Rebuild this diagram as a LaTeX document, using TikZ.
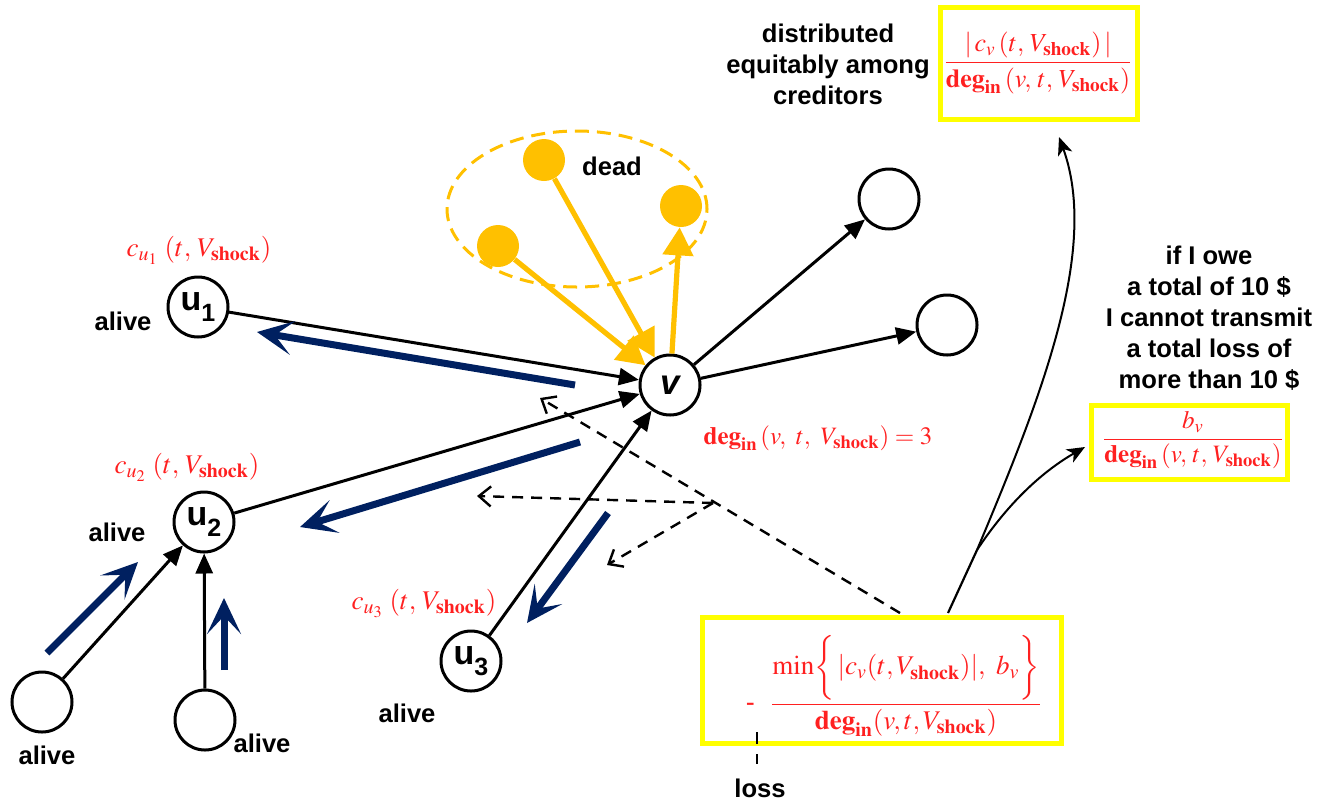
\documentclass[tikz,border=0pt]{standalone}
\usepackage{amsmath}
\usepackage{mathptmx}
\usepackage[no-math]{fontspec}
\setmainfont{Liberation Sans}
\usetikzlibrary{arrows.meta,shapes.geometric,calc}

\definecolor{gold}{HTML}{FFC000}
\definecolor{navyb}{HTML}{002060}
\definecolor{redm}{HTML}{FF2020}
\definecolor{boxyellow}{HTML}{FFFF00}

% node caption: bold letter with a lowered index
\newcommand{\vlab}[2]{\bfseries\fontsize{17}{17}\selectfont #1\raisebox{-0.32em}{\fontsize{12.5}{12.5}\selectfont #2}}
\newcommand{\Vs}{V_{\mathbf{shock}}}
\newcommand{\degin}{\mathbf{deg}_{\mathbf{in}}}

\begin{document}
\begin{tikzpicture}[x=0.5pt,y=-0.5pt,
  vert/.style={circle, draw, line width=1.5pt, minimum size=30pt, inner sep=0pt, fill=white},
  deadn/.style={circle, fill=gold, minimum size=21pt, inner sep=0pt},
  edge/.style={line width=1.5pt, -{Triangle[length=10pt,width=8.5pt]}},
  gedge/.style={draw=gold, line width=2.6pt, -{Triangle[length=14pt,width=15pt]}},
  flow/.style={draw=navyb, line width=3.5pt, -{Stealth[length=18pt,width=17pt,inset=9pt]}},
  dsh/.style={line width=1.2pt, dash pattern=on 5.5pt off 4pt, -{Straight Barb[length=6pt,width=10pt,line width=1.2pt]}},
  thinarr/.style={line width=1pt, -{Stealth[length=9pt,width=7.5pt,inset=2.5pt]}},
  lbl/.style={font=\fontsize{12.8}{15.5}\selectfont\bfseries, align=center, inner sep=0pt},
  rlbl/.style={text=redm, font=\fontsize{12.5}{15}\selectfont, inner sep=0pt},
  clbl/.style={text=redm, font=\fontsize{13.5}{15}\selectfont, inner sep=0pt},
  fbox/.style={draw=boxyellow, line width=2.5pt, inner sep=0pt}
]
\useasboundingbox (0,0) rectangle (1337,804);

% set of defaulted banks
\node[ellipse, draw=gold, line width=1.5pt, dash pattern=on 7pt off 4pt,
      minimum width=130pt, minimum height=78pt] (deadset) at (577,209) {};
\node[deadn] (d1) at (498,246) {};
\node[deadn] (d2) at (544,160) {};
\node[deadn] (d3) at (681,206) {};
\node[lbl] (deadt) at (612,166) {dead};

% banks
\node[vert] (v) at (670,385) {\bfseries\itshape\fontsize{17.5}{17.5}\selectfont v};
\node[vert] (u1) at (198,307) {\vlab{u}{1}};
\node[vert] (u2) at (204,522) {\vlab{u}{2}};
\node[vert] (u3) at (471,661) {\vlab{u}{3}};
\node[vert] (r1) at (889,199) {};
\node[vert] (r2) at (947,325) {};
\node[vert] (b1) at (42,702) {};
\node[vert] (b2) at (205,720) {};

% credit links
\draw[edge] (u1) -- (v);
\draw[edge] (u2) -- (v);
\draw[edge] (u3) -- (v);
\draw[edge] (v) -- (r1);
\draw[edge] (v) -- (r2);
\draw[edge] (b1) -- (u2);
\draw[edge] (b2) -- (u2);
\draw[gedge] (d1) -- (v);
\draw[gedge] (d2) -- (v);
\draw[gedge] (v) -- (d3);

% propagated losses
\coordinate (n1s) at (575,385); \coordinate (n1e) at (257,332);
\coordinate (n2s) at (580,442); \coordinate (n2e) at (300,527);
\coordinate (n3s) at (608,513); \coordinate (n3e) at (527,623);
\coordinate (n4s) at (47,653);  \coordinate (n4e) at (138,562);
\coordinate (n5s) at (224,670); \coordinate (n5e) at (224,598);
\draw[flow] (n1s) -- (n1e);
\draw[flow] (n2s) -- (n2e);
\draw[flow] (n3s) -- (n3e);
\draw[flow] (n4s) -- (n4e);
\draw[flow] (n5s) -- (n5e);

% labels
\node[lbl] (al1) at (123,321) {alive};
\node[lbl] (al2) at (117,532) {alive};
\node[lbl] (al3) at (47,755) {alive};
\node[lbl] (al4) at (262,743) {alive};
\node[lbl] (al5) at (407,713) {alive};
\node[clbl] (cu1) at (199,250) {$c_{u_1}\;(t,\, \Vs)$};
\node[clbl] (cu2) at (187,467) {$c_{u_2}\;(t,\, \Vs)$};
\node[clbl] (cu3) at (424,603) {$c_{u_3}\;(t,\, \Vs)$};
\node[rlbl] (degv) at (818,438) {$\degin\,(v,\ t,\ \Vs) = 3$};

% formula boxes
\node[fbox, minimum width=98.5pt, minimum height=56pt] (topbox) at (1039,63.5) {};
\node[rlbl, font=\fontsize{13}{15}\selectfont] (topf) at (1038,63) {$\displaystyle\frac{|\,c_v\,(t,\, \Vs)\,|}{\degin\,(v,\, t,\, \Vs)}$};
\node[fbox, minimum width=98pt, minimum height=37pt] (bvbox) at (1189.5,442.5) {};
\node[rlbl] (bvf) at (1193,440) {$\displaystyle\frac{b_v}{\degin\,(v,\, t,\, \Vs)}$};
\node[fbox, minimum width=179.5pt, minimum height=63pt] (lossbox) at (882,680.5) {};
\node[rlbl, font=\fontsize{13.5}{16}\selectfont] (lossf) at (894,686)
  {- \ $\displaystyle\frac{\min\biggl\{\,|c_v(t,\Vs)|,\ b_v\biggr\}}{{\textstyle\mathbf{deg}}_{\mathbf{in}}(v,t,\Vs)}$};

\node[lbl] (distt) at (828,64) {distributed\\equitably among\\creditors};
\node[lbl] (owet) at (1209,318) {if I owe\\a total of 10 \$\\I cannot transmit\\a total loss of\\more than 10 \$};
\node[lbl] (losst) at (760,788) {loss};

% loss pointer
\coordinate (mA) at (757,732); \coordinate (mB) at (757,764);
\draw[line width=1.2pt, dash pattern=on 6pt off 5pt] (mA) -- (mB);

% dashed indications of the loss reaching the debtors
\coordinate (dstart) at (900,613);
\coordinate (hub) at (713,503);
\coordinate (dA) at (540,398);
\coordinate (dB) at (477,496);
\coordinate (dC) at (607,565);
\draw[dsh] (dstart) -- (dA);
\draw[dsh] (hub) -- (dB);
\draw[dsh] (hub) -- (dC);

% explanations of the two bounds
\coordinate (cstart) at (948,613);
\coordinate (br) at (977,550);
\coordinate (toptip) at (1059,137);
\coordinate (bvtip) at (1085,447);
\draw[line width=1.1pt] (cstart) -- (br);
\draw[thinarr] (br) .. controls (1040,400) and (1100,250) .. (toptip);
\draw[thinarr] (br) .. controls (1010,500) and (1045,470) .. (bvtip);
\end{tikzpicture}
\end{document}
